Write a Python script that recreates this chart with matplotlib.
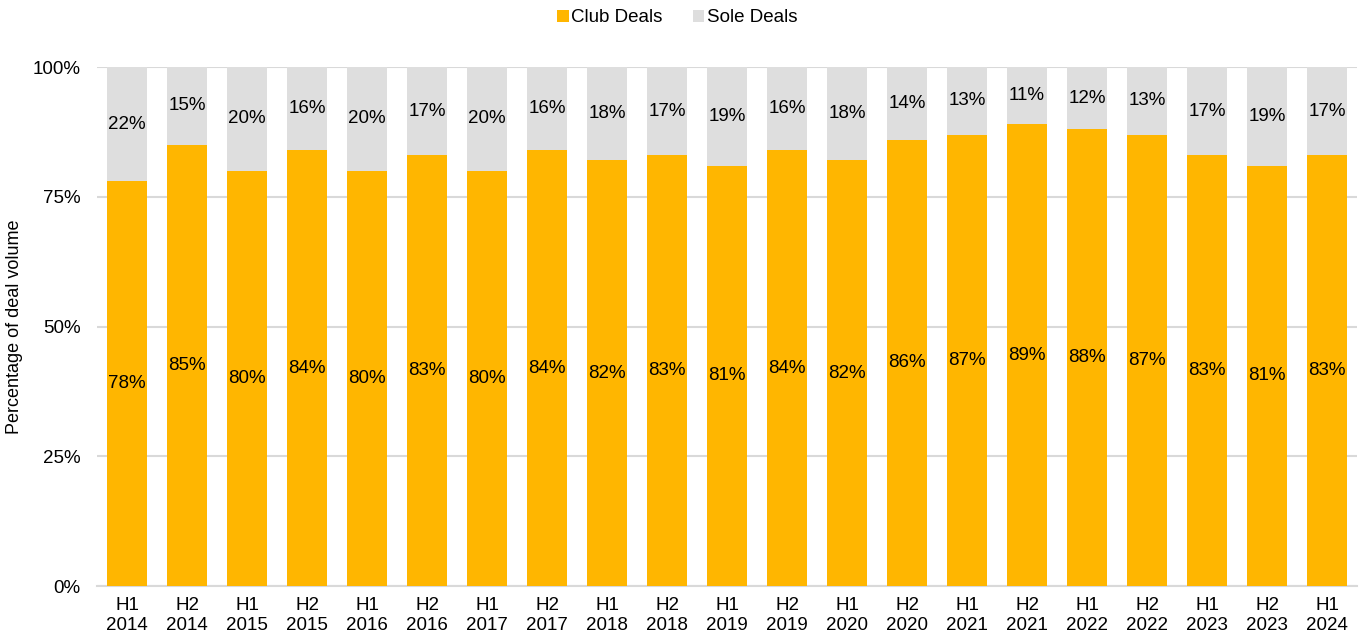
import matplotlib.pyplot as plt
from matplotlib.ticker import FuncFormatter

periods = ["H1\n2014", "H2\n2014", "H1\n2015", "H2\n2015", "H1\n2016", "H2\n2016",
           "H1\n2017", "H2\n2017", "H1\n2018", "H2\n2018", "H1\n2019", "H2\n2019",
           "H1\n2020", "H2\n2020", "H1\n2021", "H2\n2021", "H1\n2022", "H2\n2022",
           "H1\n2023", "H2\n2023", "H1\n2024"]
club = [78, 85, 80, 84, 80, 83, 80, 84, 82, 83, 81, 84, 82, 86, 87, 89, 88, 87, 83, 81, 83]
sole = [22, 15, 20, 16, 20, 17, 20, 16, 18, 17, 19, 16, 18, 14, 13, 11, 12, 13, 17, 19, 17]

plt.rcParams['font.family'] = ['Liberation Sans', 'DejaVu Sans']

fig = plt.figure(figsize=(13.63, 6.39), dpi=100)
ax = fig.add_axes([0.0712, 0.0829, 0.9244, 0.8122])

x = list(range(len(periods)))
w = 0.667
b1 = ax.bar(x, club, width=w, color='#FFB600', label='Club Deals', zorder=3)
b2 = ax.bar(x, sole, width=w, bottom=club, color='#DEDEDE', label='Sole Deals', zorder=3)

for i in x:
    ax.text(i, club[i] / 2, f"{club[i]}%", ha='center', va='center', fontsize=13.5, zorder=4)
    ax.text(i, club[i] + sole[i] / 2, f"{sole[i]}%", ha='center', va='center', fontsize=13.5, zorder=4)

ax.set_xlim(-0.5, len(periods) - 0.5)
ax.set_ylim(0, 100)
ax.set_yticks([0, 25, 50, 75, 100])
ax.yaxis.set_major_formatter(FuncFormatter(lambda v, p: f"{int(v)}%"))
ax.set_xticks(x)
ax.set_xticklabels(periods, linespacing=1.25)
ax.tick_params(axis='both', length=0, labelsize=13.5, colors='#000000')
ax.tick_params(axis='y', pad=12)
ax.tick_params(axis='x', pad=8)
ax.yaxis.grid(True, color='#D9D9D9', linewidth=1.5, zorder=0)
for s in ['top', 'right', 'left']:
    ax.spines[s].set_visible(False)
ax.spines['bottom'].set_color('#D9D9D9')
ax.spines['bottom'].set_linewidth(1.5)
ax.set_ylabel("Percentage of deal volume", fontsize=13)
ax.yaxis.set_label_coords(-0.059, 0.5)

fig.legend(handles=[b1, b2], loc='upper center', bbox_to_anchor=(0.497, 1.012), ncol=2,
           frameon=False, fontsize=13.5, handlelength=0.6, handleheight=0.6,
           handletextpad=0.15, columnspacing=1.6)

fig.savefig('out.png', dpi=100)
